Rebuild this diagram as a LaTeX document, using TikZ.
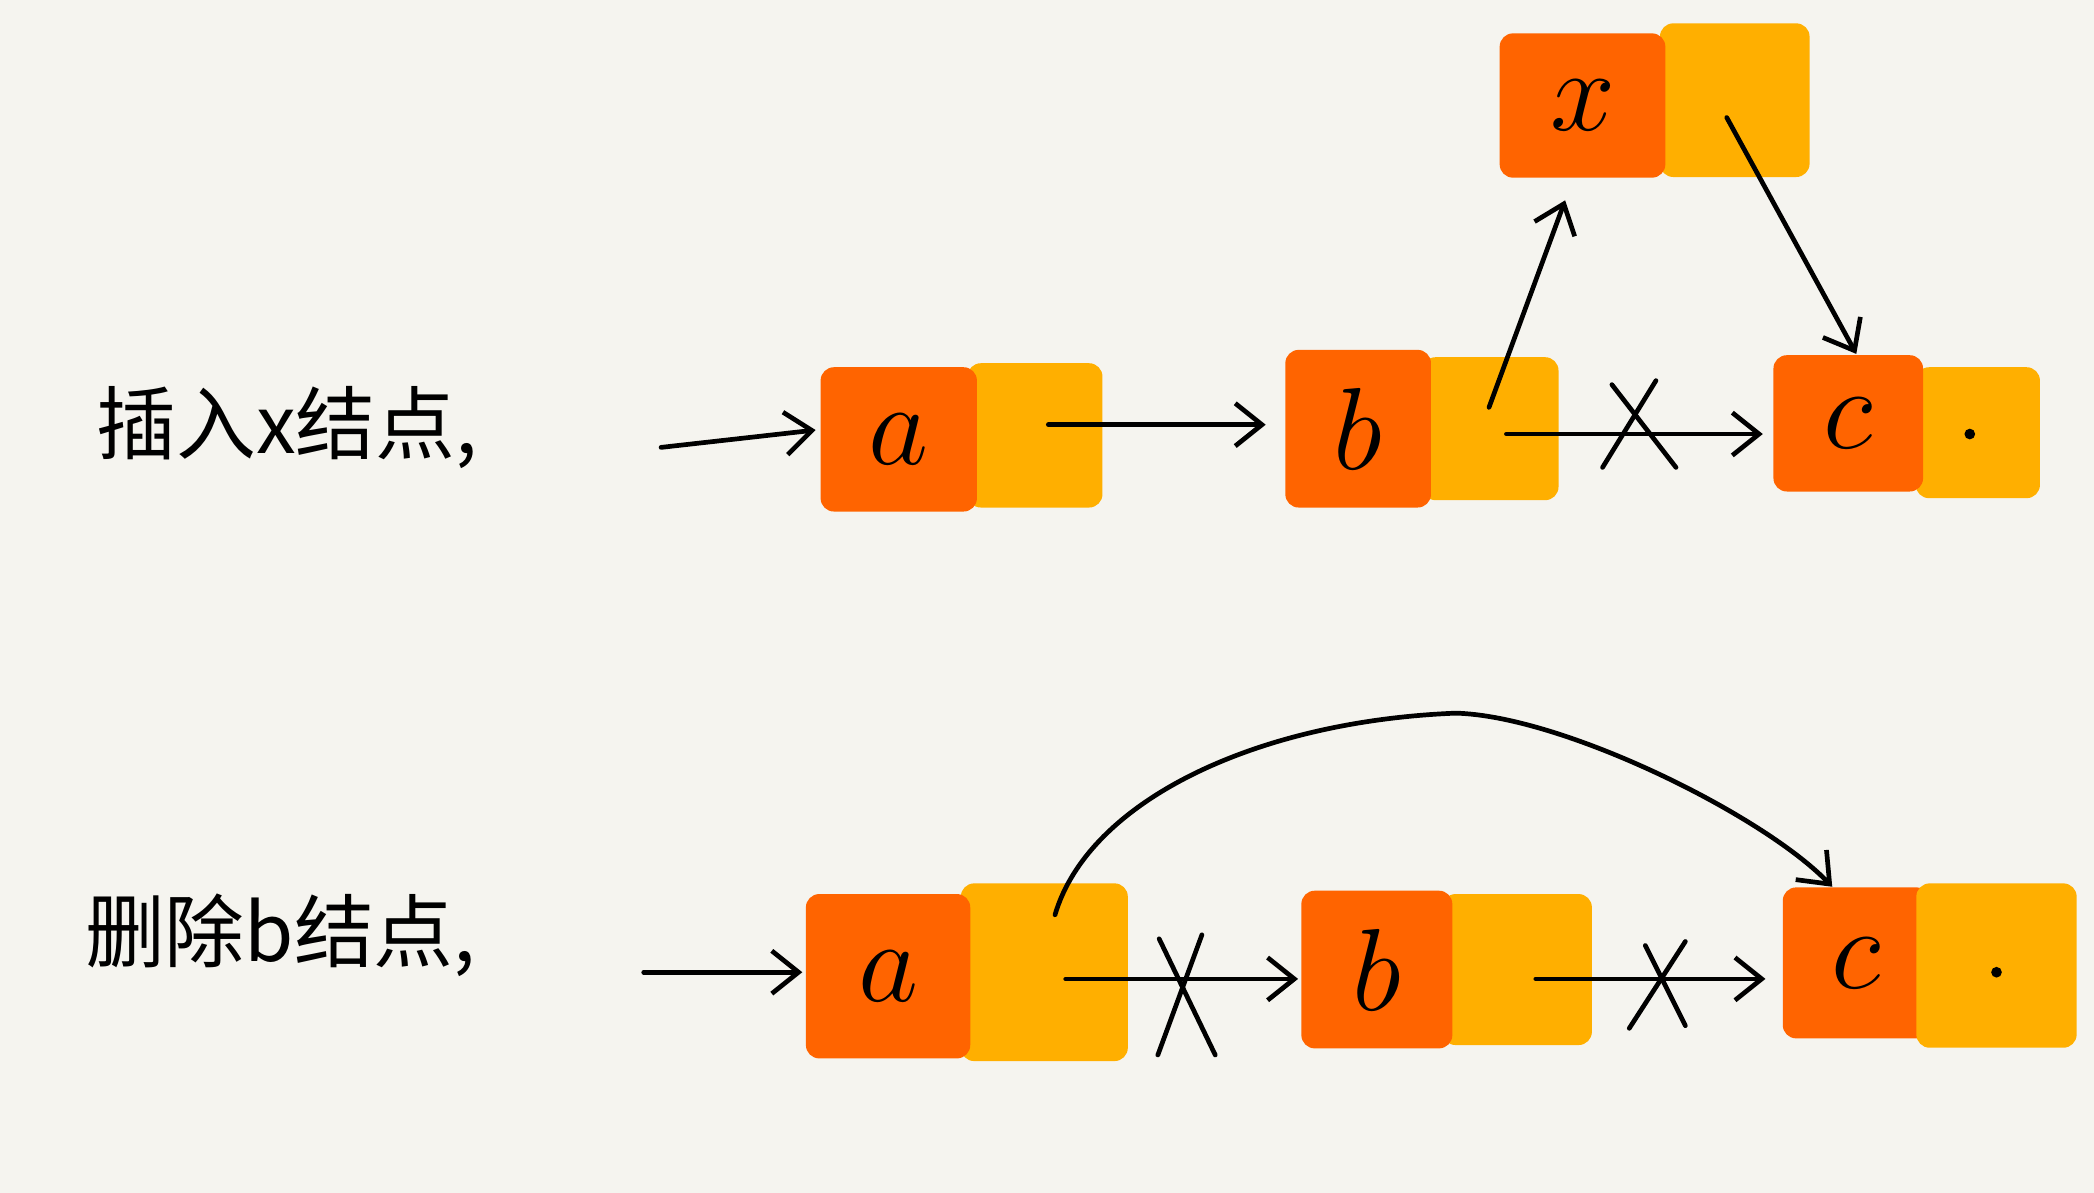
\documentclass[tikz,border=0pt]{standalone}
\usepackage{fontspec}
\newfontfamily\cjk{Noto Sans CJK SC}
\usetikzlibrary{arrows.meta,calc}
\definecolor{bg}{HTML}{F5F4EF}
\definecolor{ored}{HTML}{FF6400}
\definecolor{oyel}{HTML}{FFAF00}
\tikzset{
  datbox/.style={fill=ored, draw=none, rounded corners=0.1cm, inner sep=0pt, font=\fontsize{26}{26}\selectfont},
  ptrbox/.style={fill=oyel, draw=none, rounded corners=0.1cm, inner sep=0pt},
  link/.style={line width=1pt, -{Straight Barb[length=0.2cm,width=0.32cm,line width=1pt]}, line cap=round},
  crossline/.style={line width=1pt, line cap=round},
  label/.style={font=\cjk\fontsize{17}{17}\selectfont, inner sep=0pt},
  nulldot/.style={circle, fill=black, inner sep=0pt, minimum size=0.08cm}
}
\begin{document}
\begin{tikzpicture}[x=0.01cm,y=-0.01cm]
\fill[bg] (0,0) rectangle (1568,893);
\useasboundingbox (0,0) rectangle (1568,893);

% ---------- top row: insert x ----------
\node[label] (t1) at (215,320) {插入x结点,};

\node[ptrbox, minimum width=1.01cm, minimum height=1.08cm] (a1p) at (775,326) {};
\node[datbox, minimum width=1.17cm, minimum height=1.08cm] (a1) at (673,329) {$a$};
\node[ptrbox, minimum width=1.02cm, minimum height=1.07cm] (b1p) at (1116,321) {};
\node[datbox, minimum width=1.09cm, minimum height=1.18cm] (b1) at (1017,321) {$b$};
\node[ptrbox, minimum width=0.93cm, minimum height=0.98cm] (c1p) at (1481,324) {};
\node[datbox, minimum width=1.12cm, minimum height=1.02cm] (c1) at (1384,317) {$c$};
\node[nulldot] (d1) at (1475,325) {};
\node[ptrbox, minimum width=1.12cm, minimum height=1.15cm] (xp) at (1299,75) {};
\node[datbox, minimum width=1.24cm, minimum height=1.08cm] (x) at (1185,79) {$x$};

\coordinate (in1) at (495,335);
\coordinate (s1) at (785,318);
\coordinate (s2) at (1128,325);
\coordinate (e2) at (1320,325);
\coordinate (s3) at (1115,305);
\coordinate (e3) at (1172,150);
\coordinate (s4) at (1293,88);
\coordinate (e4) at (1390,265);

\draw[link] (in1) -- ($(a1.west)+(-3,-7)$);
\draw[link] (s1) -- ($(b1.west)+(-14,-3)$);
\draw[link] (s2) -- (e2);
\draw[link] (s3) -- (e3);
\draw[link] (s4) -- (e4);
\draw[crossline] (1207,288) -- (1255,350);
\draw[crossline] (1240,285) -- (1200,350);

% ---------- bottom row: delete b ----------
\node[label] (t2) at (210,700) {删除b结点,};

\node[ptrbox, minimum width=1.25cm, minimum height=1.33cm] (a2p) at (782,728) {};
\node[datbox, minimum width=1.23cm, minimum height=1.23cm] (a2) at (665,731) {$a$};
\node[ptrbox, minimum width=1.12cm, minimum height=1.13cm] (b2p) at (1136,726) {};
\node[datbox, minimum width=1.13cm, minimum height=1.18cm] (b2) at (1031,726) {$b$};
\node[datbox, minimum width=1.10cm, minimum height=1.13cm] (c2) at (1390,721) {$c$};
\node[ptrbox, minimum width=1.20cm, minimum height=1.23cm] (c2p) at (1495,723) {};
\node[nulldot] (d2) at (1495,728) {};

\coordinate (in2) at (482,728);
\coordinate (s5) at (798,733);
\coordinate (e5) at (972,733);
\coordinate (s6) at (1150,733);
\coordinate (e6) at (1322,733);
\coordinate (s7) at (790,685);
\coordinate (top7) at (1090,534);
\coordinate (e7) at (1372,664);

\draw[link] (in2) -- ($(a2.west)+(-2,-3)$);
\draw[link] (s5) -- (e5);
\draw[link] (s6) -- (e6);
\draw[crossline] (868,703) -- (910,790);
\draw[crossline] (900,700) -- (867,790);
\draw[crossline] (1232,708) -- (1262,768);
\draw[crossline] (1262,705) -- (1220,770);
\draw[link] (s7) .. controls (815,600) and (940,540) .. (top7)
                .. controls (1170,536) and (1320,610) .. (e7);
\end{tikzpicture}
\end{document}
